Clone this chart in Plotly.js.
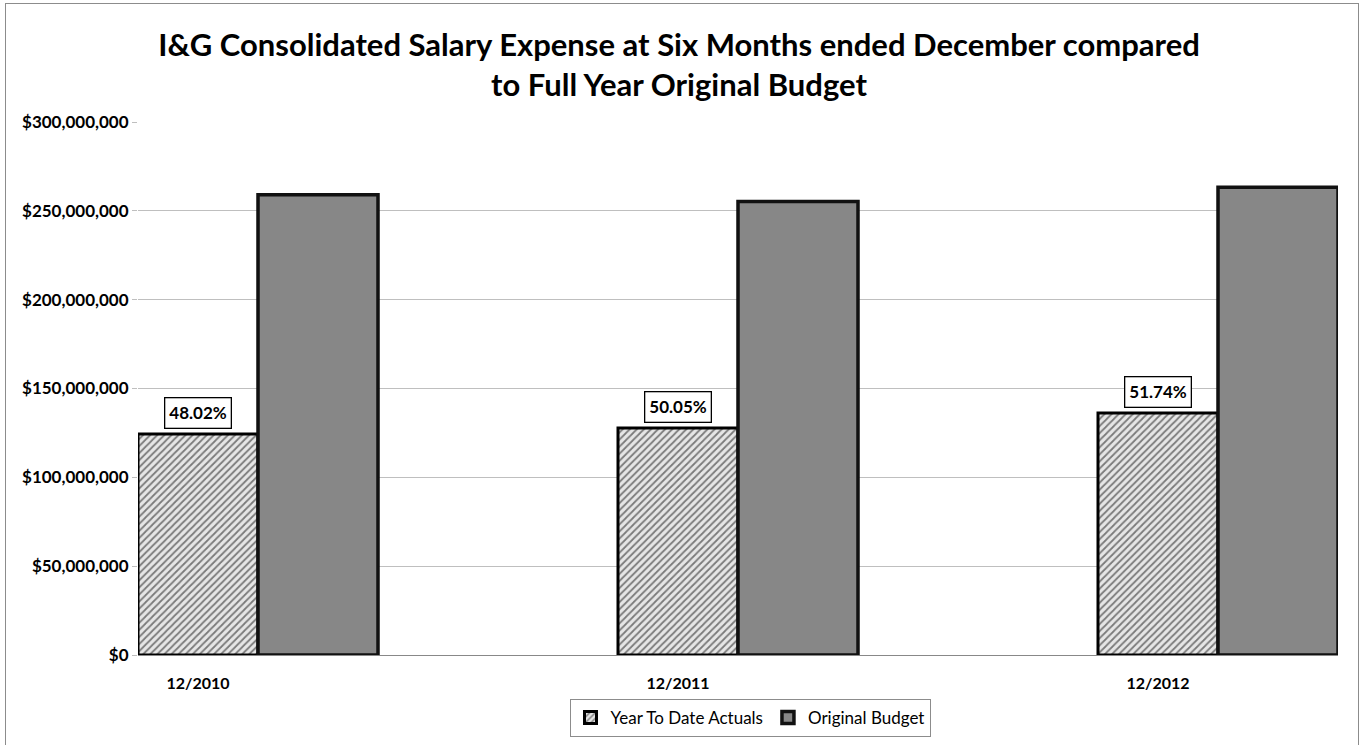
<!DOCTYPE html>
<html>
<head>
<meta charset="utf-8">
<script src="https://cdn.plot.ly/plotly-3.0.1.min.js"></script>
<style>
  html, body { margin: 0; padding: 0; background: #fff; overflow: hidden; }
  #wrap { position: relative; width: 1361px; height: 745px; overflow: hidden; }
  #chart { width: 1361px; height: 745px; }
  #frame { position: absolute; left: 5px; top: 3px; width: 1352px; height: 760px; border: 1px solid #8c8c8c; pointer-events: none; }
</style>
</head>
<body>
<div id="wrap"><div id="chart"></div><div id="frame"></div></div>
<script>
// ---- data ----
const categories = ['12/2010', '12/2011', '12/2012'];
const ytdActuals = [124400000, 127700000, 136200000];
const originalBudget = [259000000, 255200000, 263300000];
const pctLabels = ['48.02%', '50.05%', '51.74%'];
const seriesNames = ['Year To Date Actuals', 'Original Budget'];
const yTickVals = [0, 50000000, 100000000, 150000000, 200000000, 250000000, 300000000];

// ---- layout helpers ----
const idx = categories.map((c, i) => i);
const barW = 0.25;
const xA = idx.map(i => i - barW / 2);
const xB = idx.map(i => i + barW / 2);
const FONT = 'Lato, "Open Sans", "DejaVu Sans", sans-serif';

const traces = [
  {
    type: 'bar', name: seriesNames[0], x: xA, y: ytdActuals, width: barW,
    marker: {
      color: '#d9d9d9',
      pattern: { shape: '/', fgcolor: '#7a7a7a', bgcolor: '#e6e6e6', size: 5, solidity: 0.35 },
      line: { color: '#000000', width: 3 }
    },
    hoverinfo: 'y'
  },
  {
    type: 'bar', name: seriesNames[1], x: xB, y: originalBudget, width: barW,
    marker: { color: '#878787', line: { color: '#111111', width: 3.5 } },
    hoverinfo: 'y'
  }
];

const annotations = idx.map(i => ({
  x: xA[i], y: ytdActuals[i], xref: 'x', yref: 'y',
  text: '<b>' + pctLabels[i] + '</b>', showarrow: false,
  yanchor: 'bottom', yshift: 5,
  font: { family: FONT, size: 17, color: '#000' },
  bgcolor: '#ffffff', bordercolor: '#000000', borderwidth: 1.3, borderpad: 4
}));

const layout = {
  width: 1361, height: 745,
  paper_bgcolor: '#ffffff', plot_bgcolor: '#ffffff',
  margin: { l: 138, r: 23, t: 122, b: 90 },
  title: {
    text: '<b>I&G Consolidated Salary Expense at Six Months ended December compared<br>to Full Year Original Budget</b>',
    font: { family: FONT, size: 31, color: '#000' },
    x: 679 / 1361, xanchor: 'center', xref: 'container',
    y: 1 - 56 / 745, yanchor: 'middle', yref: 'container'
  },
  barmode: 'overlay',
  showlegend: true,
  legend: {
    orientation: 'h', x: 0.51, xanchor: 'center', xref: 'paper',
    y: 8 / 745, yanchor: 'bottom', yref: 'container',
    bordercolor: '#8c8c8c', borderwidth: 1,
    font: { family: FONT, size: 17, color: '#000' },
    itemwidth: 30, traceorder: 'normal', tracegroupgap: 0
  },
  xaxis: {
    type: 'linear', range: [-0.25, 2.25],
    tickvals: xA, ticktext: categories,
    tickfont: { family: FONT, size: 16, color: '#000', weight: 'bold' },
    ticklabelstandoff: 14,
    showgrid: false, zeroline: false,
    showline: true, linecolor: '#888888', linewidth: 1,
    ticks: '', fixedrange: true
  },
  yaxis: {
    range: [0, 300000000],
    tickvals: yTickVals, tickformat: '$,.0f',
    tickfont: { family: FONT, size: 17, color: '#000', weight: 'bold' },
    showgrid: true, gridcolor: '#bfbfbf', gridwidth: 1,
    zeroline: false, showline: false,
    ticks: 'outside', ticklen: 5, tickcolor: '#bfbfbf',
    fixedrange: true
  },
  annotations: annotations
};

Plotly.newPlot('chart', traces, layout, { displayModeBar: false, staticPlot: true });
</script>
</body>
</html>
